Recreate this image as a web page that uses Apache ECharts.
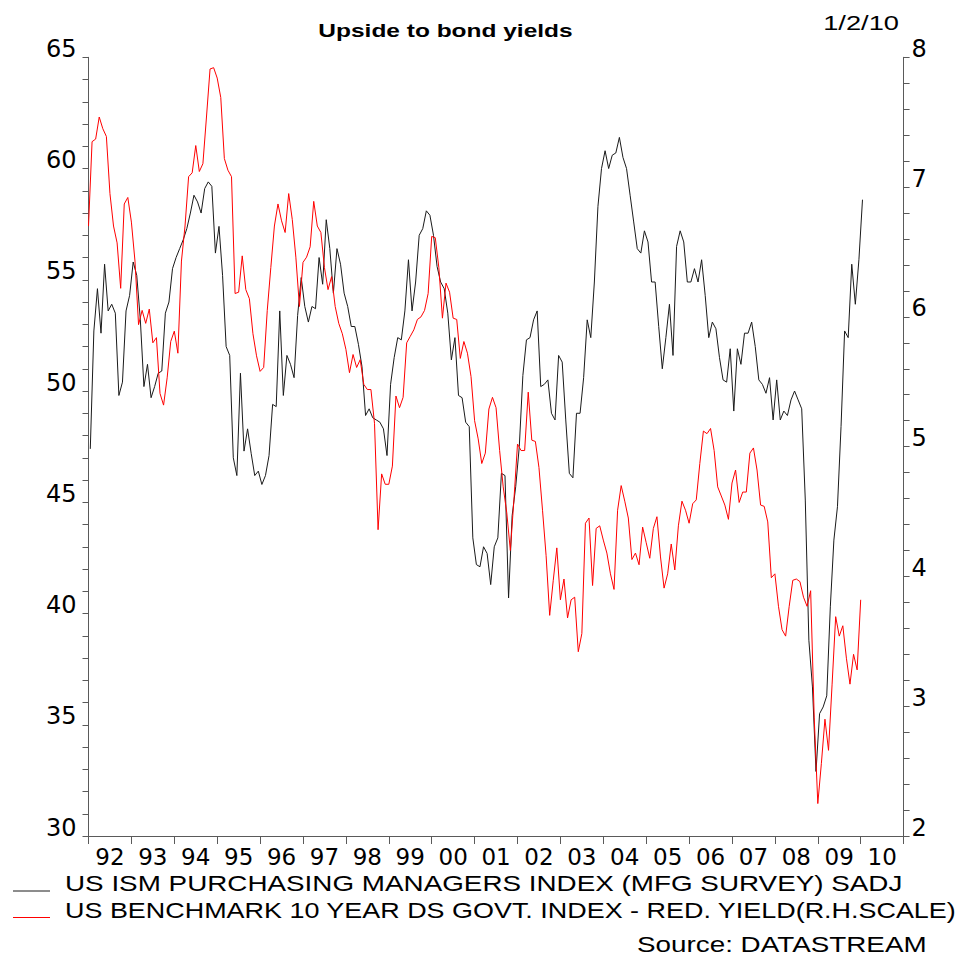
<!DOCTYPE html>
<html>
<head>
<meta charset="utf-8">
<script src="https://cdn.jsdelivr.net/npm/echarts@6/dist/echarts.min.js"></script>
<style>html,body{margin:0;padding:0;background:#fff}#c{width:973px;height:957px}</style>
</head>
<body>
<div id="c"></div>
<script>
// ---------------- DATA ----------------
const chartTitle = 'Upside to bond yields';
const chartDate = '1/2/10';
const sourceText = 'Source: DATASTREAM';
const seriesNames = [
  'US ISM PURCHASING MANAGERS INDEX (MFG SURVEY) SADJ',
  'US BENCHMARK 10 YEAR DS GOVT. INDEX - RED. YIELD(R.H.SCALE)'
];
const yearLabels = ['92','93','94','95','96','97','98','99','00','01','02','03','04','05','06','07','08','09','10'];
const leftTicks = [30, 65, 5];   // min, max, step
const rightTicks = [2, 8, 1];

// ISM PMI, monthly, Jan 1992 .. Jan 2010 (plotted mid-month)
const ismStart = 1992;
const ismPMI = [
  47.4, 52.7, 54.6, 52.6, 55.7, 53.6, 53.9, 53.5, 49.8, 50.4, 53.6, 54.3,
  55.8, 55.2, 53.2, 50.2, 51.2, 49.7, 50.2, 50.8, 50.9, 53.5, 54.0, 55.5,
  56.0, 56.4, 56.8, 57.3, 58.0, 58.8, 58.5, 58.0, 59.1, 59.4, 59.2, 56.2,
  57.4, 55.2, 52.0, 51.6, 47.0, 46.2, 50.8, 47.3, 48.3, 47.2, 46.2, 46.4,
  45.8, 46.2, 47.1, 49.4, 49.3, 53.6, 49.8, 51.6, 51.2, 50.6, 53.4, 55.1,
  53.8, 53.1, 53.8, 53.7, 56.0, 54.8, 57.7, 56.4, 54.4, 56.4, 55.7, 54.4,
  53.8, 52.9, 52.9, 52.1, 51.1, 48.9, 49.2, 48.8, 48.7, 48.6, 48.3, 47.1,
  50.3, 51.5, 52.4, 52.3, 53.6, 55.9, 53.6, 54.9, 57.0, 57.3, 58.1, 57.9,
  57.0, 55.6, 54.9, 54.6, 53.5, 51.4, 52.4, 49.8, 49.7, 48.6, 48.4, 43.4,
  42.2, 42.1, 43.0, 42.7, 41.3, 43.0, 43.4, 46.3, 46.2, 40.7, 44.4, 45.7,
  47.5, 50.7, 52.3, 52.4, 53.2, 53.6, 50.2, 50.3, 50.5, 49.0, 48.7, 51.6,
  51.3, 48.7, 46.3, 46.1, 49.0, 49.0, 50.6, 53.2, 52.4, 54.9, 58.3, 60.0,
  60.8, 60.0, 60.6, 60.7, 61.4, 60.5, 60.0, 58.8, 57.6, 56.4, 56.2, 57.2,
  56.7, 54.9, 54.9, 52.9, 51.0, 52.4, 53.9, 51.6, 56.5, 57.2, 56.7, 54.9,
  54.9, 55.5, 54.9, 55.9, 54.3, 52.4, 53.1, 52.8, 51.5, 50.5, 50.4, 51.9,
  49.1, 51.9, 51.2, 52.6, 52.6, 53.1, 52.0, 50.5, 50.3, 49.9, 50.6, 48.7,
  50.5, 48.7, 49.1, 48.9, 49.6, 50.0, 49.6, 49.2, 45.1, 38.8, 36.7, 32.9,
  35.5, 35.8, 36.3, 40.3, 43.3, 44.8, 48.4, 52.7, 52.4, 55.7, 53.9, 55.9,
  58.6
];

// 10Y benchmark redemption yield, month-end, Dec 1991 .. Dec 2009
const yieldStart = 1992;
const bondYield = [
  6.70,
  7.35, 7.37, 7.54, 7.45, 7.39, 6.95, 6.70, 6.57, 6.22, 6.87, 6.92, 6.73,
  6.43, 5.94, 6.05, 5.95, 6.06, 5.80, 5.84, 5.41, 5.32, 5.53, 5.81, 5.89,
  5.72, 6.43, 6.70, 7.08, 7.11, 7.32, 7.12, 7.18, 7.54, 7.91, 7.92, 7.84,
  7.69, 7.22, 7.13, 7.08, 6.18, 6.19, 6.47, 6.21, 6.14, 5.87, 5.70, 5.58,
  5.61, 6.05, 6.38, 6.70, 6.87, 6.74, 6.65, 6.95, 6.75, 6.46, 6.08, 6.42,
  6.46, 6.54, 6.89, 6.70, 6.65, 6.38, 6.21, 6.31, 6.08, 5.95, 5.87, 5.75,
  5.57, 5.71, 5.61, 5.67, 5.48, 5.44, 5.44, 5.18, 4.36, 4.79, 4.71, 4.71,
  4.85, 5.39, 5.30, 5.38, 5.80, 5.85, 5.90, 5.98, 6.00, 6.05, 6.18, 6.62,
  6.61, 6.38, 5.99, 6.26, 6.19, 5.99, 5.98, 5.68, 5.81, 5.72, 5.54, 5.20,
  5.06, 4.87, 4.95, 5.29, 5.38, 5.30, 4.97, 4.69, 4.49, 4.20, 4.59, 5.02,
  4.97, 4.97, 5.42, 5.05, 5.04, 4.84, 4.51, 4.16, 3.70, 3.97, 4.22, 3.82,
  3.98, 3.68, 3.82, 3.84, 3.42, 3.56, 4.41, 4.45, 3.93, 4.37, 4.39, 4.28,
  4.18, 4.02, 3.90, 4.51, 4.70, 4.58, 4.45, 4.13, 4.18, 4.09, 4.38, 4.26,
  4.14, 4.37, 4.46, 4.15, 3.91, 4.02, 4.25, 4.05, 4.39, 4.58, 4.51, 4.41,
  4.56, 4.59, 4.87, 5.12, 5.10, 5.14, 4.97, 4.69, 4.62, 4.55, 4.44, 4.72,
  4.82, 4.57, 4.65, 4.65, 4.95, 4.99, 4.82, 4.55, 4.54, 4.42, 3.99, 4.02,
  3.77, 3.59, 3.54, 3.77, 3.97, 3.98, 3.96, 3.84, 3.77, 3.89, 2.91, 2.25,
  2.56, 2.90, 2.66, 3.17, 3.69, 3.54, 3.62, 3.37, 3.17, 3.40, 3.28, 3.82
];

// ---------------- CHART ----------------
const ismData = ismPMI.map((v, i) => [ismStart + (i + 0.5) / 12, v]);
const yieldData = bondYield.map((v, j) => [yieldStart + j / 12, v]);

const AX = '#5a5a5a';
const FONT = '"DejaVu Sans", sans-serif';
const TXT = '"Liberation Sans", Arial, sans-serif';

const chart = echarts.init(document.getElementById('c'), null, {renderer: 'svg', width: 973, height: 957});

const xMin = 1992, xMax = 1992 + yearLabels.length;

chart.setOption({
  animation: false,
  backgroundColor: '#ffffff',
  grid: {left: 88.5, right: 69.4, top: 57.3, bottom: 121, containLabel: false},
  xAxis: [
    {
      type: 'value', min: xMin, max: xMax, interval: 1,
      axisLine: {show: true, onZero: false, lineStyle: {color: AX, width: 1}},
      axisTick: {show: true, length: 8, lineStyle: {color: AX, width: 1}},
      axisLabel: {show: false},
      splitLine: {show: false}
    },
    {
      type: 'value', min: xMin, max: xMax, interval: 0.5, position: 'bottom',
      axisLine: {show: false, onZero: false},
      axisTick: {show: false},
      splitLine: {show: false},
      axisLabel: {
        show: true, margin: 9, fontSize: 23, fontFamily: FONT, color: '#000',
        formatter: function (v) {
          const f = v - xMin;
          const fr = f - Math.floor(f);
          return Math.abs(fr - 0.5) < 1e-6 ? (yearLabels[Math.floor(f)] || '') : '';
        }
      }
    }
  ],
  yAxis: [
    {
      type: 'value', position: 'left', min: leftTicks[0], max: leftTicks[1], interval: leftTicks[2],
      axisLine: {show: true, lineStyle: {color: AX, width: 1}},
      axisTick: {show: true, length: 6, lineStyle: {color: AX, width: 1}},
      minorTick: {show: true, splitNumber: 5, length: 6, lineStyle: {color: AX, width: 1}},
      splitLine: {show: false}, minorSplitLine: {show: false},
      axisLabel: {margin: 12, fontSize: 24, fontFamily: FONT, color: '#000', verticalAlign: 'bottom', lineHeight: 17}
    },
    {
      type: 'value', position: 'right', min: rightTicks[0], max: rightTicks[1], interval: rightTicks[2],
      axisLine: {show: true, lineStyle: {color: AX, width: 1}},
      axisTick: {show: true, length: 6, lineStyle: {color: AX, width: 1}},
      minorTick: {show: true, splitNumber: 5, length: 6, lineStyle: {color: AX, width: 1}},
      splitLine: {show: false}, minorSplitLine: {show: false},
      axisLabel: {margin: 8, fontSize: 24, fontFamily: FONT, color: '#000', verticalAlign: 'bottom', lineHeight: 17}
    }
  ],
  series: [
    {
      name: seriesNames[0], type: 'line', xAxisIndex: 0, yAxisIndex: 0,
      data: ismData, showSymbol: false, symbol: 'none', clip: true,
      lineStyle: {color: '#1a1a1a', width: 1}, itemStyle: {color: '#1a1a1a'}
    },
    {
      name: seriesNames[1], type: 'line', xAxisIndex: 0, yAxisIndex: 1,
      data: yieldData, showSymbol: false, symbol: 'none', clip: true,
      lineStyle: {color: '#ff0000', width: 1}, itemStyle: {color: '#ff0000'}
    }
  ],
  graphic: [
    {type: 'text', x: 445.5, y: 31, scaleX: 1.4,
     style: {text: chartTitle, font: 'bold 17.5px ' + TXT, fill: '#000', textAlign: 'center', textVerticalAlign: 'middle', align: 'center', verticalAlign: 'middle'}},
    {type: 'text', x: 899, y: 22.5, scaleX: 1.3,
     style: {text: chartDate, font: '21px ' + TXT, fill: '#000', textAlign: 'right', textVerticalAlign: 'middle', align: 'right', verticalAlign: 'middle'}},
    {type: 'line', shape: {x1: 13, y1: 891, x2: 50, y2: 891}, style: {stroke: '#1a1a1a', lineWidth: 1}},
    {type: 'line', shape: {x1: 13, y1: 917.5, x2: 50, y2: 917.5}, style: {stroke: '#ff0000', lineWidth: 1}},
    {type: 'text', x: 65, y: 883.5, scaleX: 1.265,
     style: {text: seriesNames[0], font: '22px ' + TXT, fill: '#000', textAlign: 'left', textVerticalAlign: 'middle', align: 'left', verticalAlign: 'middle'}},
    {type: 'text', x: 65, y: 910.5, scaleX: 1.225,
     style: {text: seriesNames[1], font: '22px ' + TXT, fill: '#000', textAlign: 'left', textVerticalAlign: 'middle', align: 'left', verticalAlign: 'middle'}},
    {type: 'text', x: 637, y: 944, scaleX: 1.265,
     style: {text: sourceText, font: '22px ' + TXT, fill: '#000', textAlign: 'left', textVerticalAlign: 'middle', align: 'left', verticalAlign: 'middle'}}
  ]
});
</script>
</body>
</html>
